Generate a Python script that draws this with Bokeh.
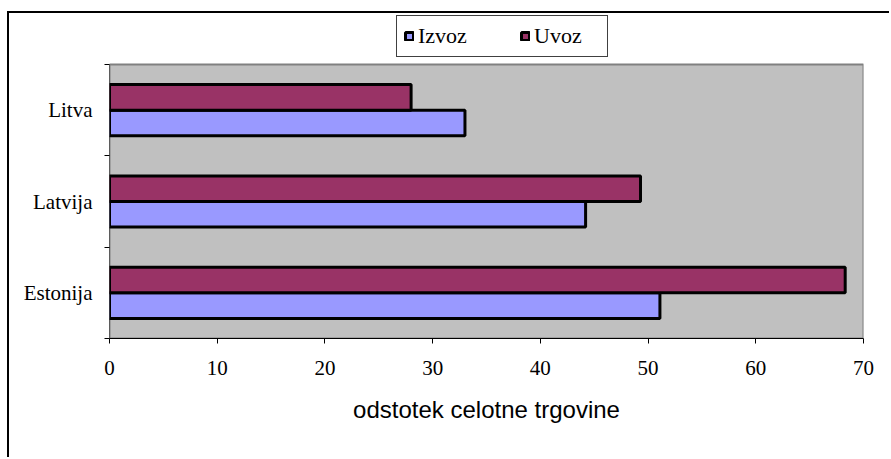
from bokeh.plotting import figure
from bokeh.models import ColumnDataSource, Range1d, FixedTicker, Legend, LegendItem
from bokeh.embed import file_html
from bokeh.resources import INLINE

# ---- data ----
countries = ["Estonija", "Latvija", "Litva"]
izvoz = [51.1, 44.2, 33.0]
uvoz = [68.3, 49.3, 28.0]
x_ticks = [0, 10, 20, 30, 40, 50, 60, 70]
series_names = ["Izvoz", "Uvoz"]
series_colors = ["#9999FF", "#993366"]

n = len(countries)
centers = [i + 0.5 for i in range(n)]
boundaries = [float(i) for i in range(n + 1)]
bar_h = 0.28

src_iz = ColumnDataSource(dict(y=[c - bar_h / 2 for c in centers], right=izvoz, country=countries))
src_uv = ColumnDataSource(dict(y=[c + bar_h / 2 for c in centers], right=uvoz, country=countries))

# frame extends above the grey plot area so that the legend (inside the frame) is not clipped
y_top = n * 323 / 274

W, H = 882, 446
p = figure(width=W, height=H, output_backend="svg", toolbar_location=None,
           x_range=Range1d(x_ticks[0], x_ticks[-1]), y_range=Range1d(0, y_top),
           min_border_left=100, min_border_right=28, min_border_top=2, min_border_bottom=121)
p.styles = {"border-left": "2px solid black", "border-top": "2px solid black",
            "margin-top": "11px", "margin-left": "7px"}

p.background_fill_color = "white"
p.border_fill_color = "white"
p.outline_line_color = None
p.xgrid.visible = False
p.ygrid.visible = False

# grey plot area
p.quad(left=x_ticks[0], right=x_ticks[-1], bottom=0, top=n,
       fill_color="#C0C0C0", line_color="#808080", line_width=2)
# left axis line of the plot area
p.segment(x0=x_ticks[0], y0=0, x1=x_ticks[0], y1=n, line_color="black", line_width=1)

r_iz = p.hbar(y="y", right="right", left=0, height=bar_h, source=src_iz,
              fill_color=series_colors[0], line_color="black", line_width=3)
r_uv = p.hbar(y="y", right="right", left=0, height=bar_h, source=src_uv,
              fill_color=series_colors[1], line_color="black", line_width=3)

# x axis
xa = p.xaxis[0]
xa.ticker = FixedTicker(ticks=x_ticks)
xa.axis_line_color = "black"
xa.major_tick_out = 5
xa.major_tick_in = 0
xa.minor_tick_line_color = None
xa.major_label_text_font = "Liberation Serif"
xa.major_label_text_font_size = "21px"
xa.major_label_text_color = "black"
xa.major_label_standoff = 17
xa.axis_label = "odstotek celotne trgovine"
xa.axis_label_text_font = "Liberation Sans"
xa.axis_label_text_font_size = "24px"
xa.axis_label_text_font_style = "normal"
xa.axis_label_text_color = "black"
xa.axis_label_standoff = 18

# y axis
ya = p.yaxis[0]
ya.ticker = FixedTicker(ticks=centers, minor_ticks=boundaries)
ya.major_label_overrides = dict(zip(centers, countries))
ya.major_tick_line_color = None
ya.major_tick_out = 0
ya.major_tick_in = 0
ya.minor_tick_line_color = "black"
ya.minor_tick_out = 5
ya.minor_tick_in = 0
ya.axis_line_color = None
ya.major_label_text_font = "Liberation Serif"
ya.major_label_text_font_size = "21px"
ya.major_label_text_color = "black"
ya.major_label_standoff = 12

legend = Legend(items=[LegendItem(label=series_names[0], renderers=[r_iz]),
                       LegendItem(label=series_names[1], renderers=[r_uv])],
                orientation="horizontal", location=(287, 281))
legend.label_text_font = "Liberation Serif"
legend.label_text_font_size = "22px"
legend.label_text_color = "black"
legend.glyph_width = 10
legend.glyph_height = 10
legend.label_standoff = 4
legend.label_width = 66
legend.spacing = 36
legend.padding = 7
legend.margin = 0
legend.border_line_color = "#404040"
legend.border_line_alpha = 1
legend.border_line_width = 1
legend.background_fill_color = "white"
legend.background_fill_alpha = 1
p.add_layout(legend, "center")

open("out.html", "w").write(file_html(p, INLINE))
